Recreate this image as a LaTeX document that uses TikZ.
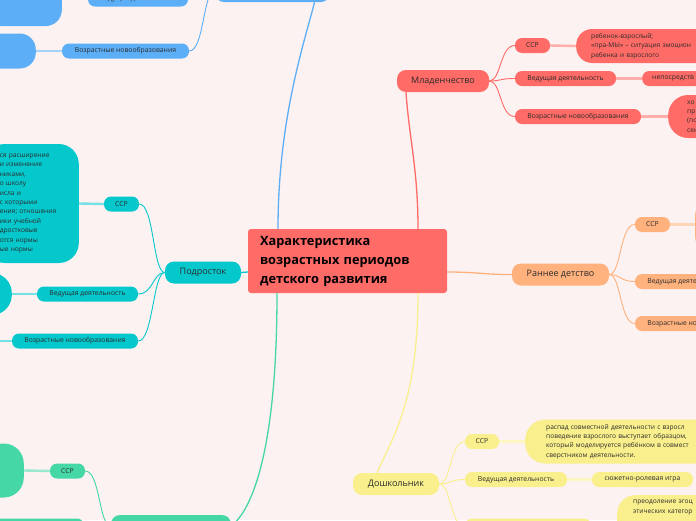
\documentclass[tikz,border=0pt]{standalone}
\usepackage{fontspec}
\setmainfont{Open Sans}
\definecolor{bgpink}{HTML}{FDF2F2}
\definecolor{mred}{HTML}{FF6B66}
\definecolor{morange}{HTML}{FFB27D}
\definecolor{myellow}{HTML}{F9EF8C}
\definecolor{mcyan}{HTML}{05C8CD}
\definecolor{mgreen}{HTML}{45D7A6}
\definecolor{mblue}{HTML}{5CAEF6}
\definecolor{mtext}{HTML}{2B2B2B}

\begin{document}
\begin{tikzpicture}[x=1pt, y=-1pt,
    root/.style={fill=mred, rounded corners=3pt, minimum width=199pt, minimum height=64pt,
        text width=175pt, inner xsep=12pt, align=left, font=\fontsize{12.8}{19}\selectfont\bfseries},
    topic/.style={fill=#1, rounded corners=9pt, minimum height=22pt, inner xsep=0pt,
        text=mtext, font=\fontsize{9}{11}\selectfont},
    sub/.style={fill=#1, rounded corners=7pt, minimum height=15pt, inner xsep=0pt,
        text=mtext, font=\fontsize{6.8}{8}\selectfont},
    leaf/.style={fill=#1, rounded corners=16pt, inner xsep=15pt, inner ysep=0pt, align=left,
        text=mtext, font=\fontsize{6.6}{9.4}\selectfont},
    branch/.style={draw=#1, line width=1.3pt},
    fork/.style={draw=#1, line width=0.9pt},
    twig/.style={draw=#1!55, line width=2.4pt}]

    \useasboundingbox (0,0) rectangle (696,520);
    \clip (0,0) rectangle (696,520);
    \fill[bgpink] (0,0) rectangle (696,520);

    % Root
    \node[root] (root) at (347.5,261) {Характеристика\\возрастных периодов\\детского развития};

    % Младенчество
    \node[topic=mred, minimum width=92pt] (mlad) at (443,81) {Младенчество};
    \node[sub=mred, minimum width=35pt] (rssr) at (532.5,45.5) {ССР};
    \node[sub=mred, minimum width=101pt] (rved) at (565.5,78.5) {Ведущая деятельность};
    \node[sub=mred, minimum width=126pt] (rvoz) at (578,116.5) {Возрастные новообразования};
    \node[leaf=mred, anchor=west, minimum height=34pt, text width=150pt] (rssrleaf) at (576,46)
        {ребенок-взрослый;\\«пра-МЫ» – ситуация эмоцион\\ребенка и взрослого};
    \node[sub=mred, anchor=west, inner xsep=10pt] (rvedleaf) at (642,78.5) {непосредств};
    \node[leaf=mred, anchor=west, minimum height=43pt, text width=60pt, inner xsep=19pt,
        rounded corners=20pt] (rvozleaf) at (668,116.5) {хо\\пр\\(по\\сен};
    \draw[branch=mred] ([xshift=70.5pt]root.north) .. controls +(0,-60) and +(3,45) .. ([xshift=-37pt]mlad.south);
    \draw[fork=mred] (mlad.east) .. controls +(12,0) and +(-15,0) .. (rssr.west);
    \draw[fork=mred] (mlad.east) .. controls +(12,0) and +(-15,0) .. (rved.west);
    \draw[fork=mred] (mlad.east) .. controls +(12,0) and +(-15,0) .. (rvoz.west);
    \draw[twig=mred] (rssr.east) -- (rssrleaf.west);
    \draw[twig=mred] (rved.east) -- (rvedleaf.west);
    \draw[twig=mred] (rvoz.east) -- (rvozleaf.west);

    % Раннее детство
    \node[topic=morange, minimum width=97pt] (ranee) at (560.5,274.5) {Раннее детство};
    \node[sub=morange, minimum width=35pt] (ossr) at (652.5,224.5) {ССР};
    \node[sub=morange, minimum width=101pt] (oved) at (685.5,281.5) {Ведущая деятельность};
    \node[sub=morange, minimum width=126pt] (ovoz) at (698,323.5) {Возрастные новообразования};
    \node[leaf=morange, anchor=west, minimum height=54pt, minimum width=60pt] (ossrleaf) at (695,226) {};
    \draw[branch=morange] ([yshift=-11pt]root.east) .. controls +(30,0) and +(-30,0) .. (ranee.west);
    \draw[fork=morange] (ranee.east) .. controls +(12,0) and +(-15,0) .. (ossr.west);
    \draw[fork=morange] (ranee.east) .. controls +(12,0) and +(-15,0) .. (oved.west);
    \draw[fork=morange] (ranee.east) .. controls +(12,0) and +(-15,0) .. (ovoz.west);
    \draw[twig=morange] (ossr.east) -- (ossrleaf.west |- ossr.east);

    % Дошкольник
    \node[topic=myellow, minimum width=86pt] (dosh) at (396,484) {Дошкольник};
    \node[sub=myellow, minimum width=34pt] (yssr) at (482,441.5) {ССР};
    \node[sub=myellow, minimum width=102pt] (yved) at (516,479.5) {Ведущая деятельность};
    \node[sub=myellow, minimum width=126pt] (yvoz) at (528,526) {Возрастные новообразования};
    \node[leaf=myellow, anchor=west, minimum height=44pt, text width=170pt, inner xsep=21pt,
        rounded corners=20pt] (yssrleaf) at (525,441.5)
        {распад совместной деятельности с взросл\\поведение взрослого выступает образцом,\\
         который моделируется ребёнком в совмест\\сверстником деятельности.};
    \node[sub=myellow, minimum width=101pt] (yvedleaf) at (642.5,479.5) {сюжетно-ролевая игра};
    \node[leaf=myellow, anchor=north west, text width=100pt, text depth=40pt, inner xsep=16pt,
        inner ysep=5pt, rounded corners=18pt] (yvozleaf) at (617,495) {преодоление эгоц\\этических категор};
    \draw[branch=myellow] ([xshift=70.5pt]root.south) .. controls +(0,110) and +(15,-35) .. ([xshift=-19pt]dosh.north);
    \draw[fork=myellow] (dosh.east) .. controls +(12,0) and +(-15,0) .. (yssr.west);
    \draw[fork=myellow] (dosh.east) .. controls +(12,0) and +(-15,0) .. (yved.west);
    \draw[fork=myellow] (dosh.east) .. controls +(12,0) and +(-15,0) .. (yvoz.west);
    \draw[twig=myellow] (yssr.east) -- (yssrleaf.west);
    \draw[twig=myellow] (yved.east) -- (yvedleaf.west);
    \draw[twig=myellow] (yvoz.east) -- (yvozleaf.west |- yvoz.east);

    % Подросток
    \node[topic=mcyan, minimum width=76pt] (pod) at (203,272.5) {Подросток};
    \node[sub=mcyan, minimum width=35pt] (cssr) at (121.5,204) {ССР};
    \node[sub=mcyan, minimum width=101pt] (cved) at (87.5,294) {Ведущая деятельность};
    \node[sub=mcyan, minimum width=126pt] (cvoz) at (75,341) {Возрастные новообразования};
    \node[leaf=mcyan, anchor=east, minimum height=119pt, text width=64pt, rounded corners=20pt] (cssrleaf) at (79,203.5)
        {ся расширение\\и изменение\\никами,\\о школу\\исла и\\с которыми\\ения; отношения\\ики учебной\\дростковые\\отся нормы\\ые нормы};
    \node[leaf=mcyan, anchor=east, minimum height=42pt, minimum width=60pt, rounded corners=20pt] (cvedleaf) at (12,294) {};
    \node[leaf=mcyan, anchor=east, minimum height=40pt, minimum width=60pt] (cvozleaf) at (-14,341) {};
    \draw[branch=mcyan] ([yshift=-11pt]root.west) -- (pod.east);
    \draw[fork=mcyan] (pod.west) .. controls +(-12,0) and +(15,0) .. (cssr.east);
    \draw[fork=mcyan] (pod.west) .. controls +(-12,0) and +(15,0) .. (cved.east);
    \draw[fork=mcyan] (pod.west) .. controls +(-12,0) and +(15,0) .. (cvoz.east);
    \draw[twig=mcyan] (cssr.west) -- (cssrleaf.east);
    \draw[twig=mcyan] (cved.west) -- (cvedleaf.east);
    \draw[twig=mcyan] (cvoz.west) -- (cvozleaf.east);

    % top-left branch
    \node[topic=mblue, minimum width=115pt] (blue) at (272.5,-9) {};
    \node[sub=mblue, minimum width=100pt] (bved) at (138,-1) {Ведущая деятельность};
    \node[sub=mblue, minimum width=127pt] (bvoz) at (125.5,51) {Возрастные новообразования};
    \node[leaf=mblue, anchor=east, minimum height=54pt, text width=47pt] (bvedleaf) at (62,-1) {го};
    \node[leaf=mblue, anchor=east, minimum height=35pt, minimum width=60pt] (bvozleaf) at (36,51) {};
    \draw[branch=mblue] ([xshift=42pt]blue.south) .. controls +(-10,40) and +(0,-110) .. ([xshift=-69.5pt]root.north);
    \draw[fork=mblue] (blue.west) .. controls +(-12,0) and +(15,0) .. (bved.east);
    \draw[fork=mblue] (blue.west) .. controls +(-12,0) and +(15,0) .. (bvoz.east);
    \draw[twig=mblue] (bved.west) -- (bvedleaf.east);
    \draw[twig=mblue] (bvoz.west) -- (bvozleaf.east);

    % bottom-left branch
    \node[topic=mgreen, minimum width=120pt] (grn) at (171,526) {Младший школьник};
    \node[sub=mgreen, minimum width=35pt] (gssr) at (67.5,471) {ССР};
    \node[sub=mgreen, minimum width=101pt] (gved) at (33.5,526) {Ведущая деятельность};
    \node[leaf=mgreen, anchor=east, minimum height=54pt, minimum width=60pt, rounded corners=20pt] (gssrleaf) at (24,470.5) {};
    \draw[branch=mgreen] ([xshift=-70.5pt]root.south) .. controls +(0,160) and +(20,-15) .. (grn.east);
    \draw[fork=mgreen] (grn.west) .. controls +(-12,0) and +(15,0) .. (gssr.east);
    \draw[fork=mgreen] (grn.west) .. controls +(-12,0) and +(15,0) .. (gved.east);
    \draw[twig=mgreen] (gssr.west) -- (gssrleaf.east);
\end{tikzpicture}
\end{document}
